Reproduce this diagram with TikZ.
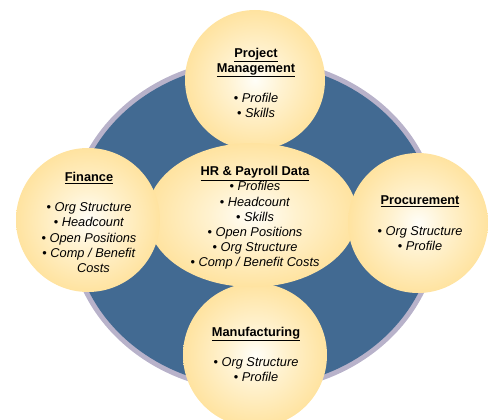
\documentclass[tikz,border=0pt]{standalone}
\usepackage{fontspec}
\setmainfont{Liberation Sans}
\usetikzlibrary{shapes.geometric}

\definecolor{panelblue}{HTML}{426A92}
\definecolor{panelrim}{HTML}{B8B2CA}
\definecolor{glowA}{HTML}{FFFEF8}
\definecolor{glowB}{HTML}{FFF2D0}
\definecolor{glowC}{HTML}{FFE3A0}
\definecolor{glowD}{HTML}{FFD87F}
\definecolor{glowE}{HTML}{FFD36C}

% warm radial glow used for every bubble
\pgfdeclareradialshading{glow}{\pgfpoint{0bp}{0bp}}{%
  color(0bp)=(glowA); color(10bp)=(glowB); color(25bp)=(glowC);
  color(40bp)=(glowD); color(50bp)=(glowE); color(72bp)=(glowE)}

\newcommand\ttl[1]{\textbf{\underline{#1}}}
\newcommand\itm[1]{\textbullet\ \textit{#1}}

\tikzset{
  disc/.style={circle, minimum size=#1, inner sep=0pt, shading=glow},
  hub/.style={ellipse, minimum width=210pt, minimum height=144pt,
              inner sep=0pt, shading=glow},
  blurb/.style={align=center, inner sep=0pt,
                font=\fontsize{12.8}{15.2}\selectfont},
}

\begin{document}
\begin{tikzpicture}[x=1pt, y=-1pt]
  \useasboundingbox (0,0) rectangle (488,420);

  % backdrop ellipse with its pale rim
  \fill[panelrim] (254,225) ellipse [x radius=186, y radius=167];
  \fill[panelblue] (254,225) ellipse [x radius=181, y radius=162];

  % bubbles, back to front
  \node[disc=140pt] (pm)   at (255,80)  {};
  \node[disc=144pt] (mfg)  at (255,355) {};
  \node[hub]        (hr)   at (252,215) {};
  \node[disc=144pt] (fin)  at (88,220)  {};
  \node[disc=140pt] (proc) at (418,223) {};

  % bubble texts
  \node[blurb] (pmtext) at (256,83)
    {\ttl{Project}\\\ttl{Management}\\[15.2pt]\itm{Profile}\\\itm{Skills}};
  \node[blurb] (hrtext) at (255,218)
    {\ttl{HR \& Payroll Data}\\\itm{Profiles}\\\itm{Headcount}\\\itm{Skills}\\
     \itm{Open Positions}\\\itm{Org Structure}\\\itm{Comp / Benefit Costs}};
  \node[blurb] (fintext) at (89,222.4)
    {\ttl{Finance}\\[15.2pt]\itm{Org Structure}\\\itm{Headcount}\\
     \itm{Open Positions}\\\itm{Comp / Benefit}\\\hspace*{9pt}\textit{Costs}};
  \node[blurb] (proctext) at (420,223.4)
    {\ttl{Procurement}\\[15.2pt]\itm{Org Structure}\\\itm{Profile}};
  \node[blurb] (mfgtext) at (256,354.4)
    {\ttl{Manufacturing}\\[15.2pt]\itm{Org Structure}\\\itm{Profile}};
\end{tikzpicture}
\end{document}
